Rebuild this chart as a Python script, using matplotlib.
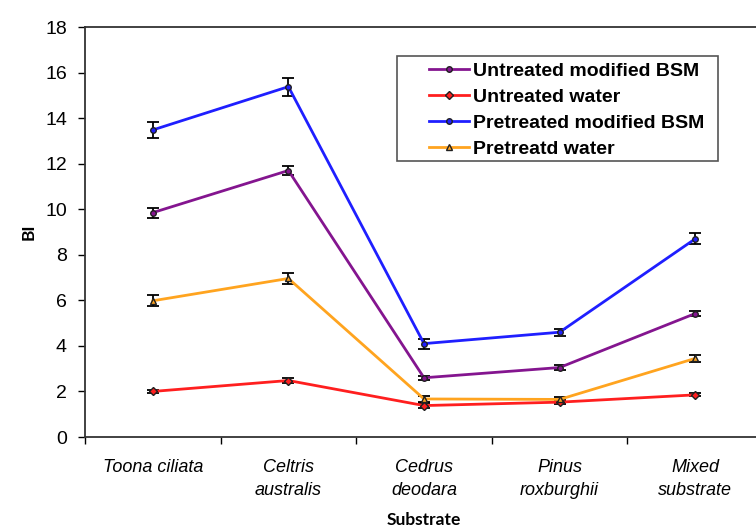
import numpy as np
import matplotlib.pyplot as plt
from matplotlib.patches import Rectangle
from matplotlib.ticker import FixedLocator, NullFormatter

plt.rcParams['font.family'] = ['Liberation Sans', 'DejaVu Sans']

substrates = ["Toona ciliata", "Celtris\naustralis", "Cedrus\ndeodara",
              "Pinus\nroxburghii", "Mixed\nsubstrate"]

# BI means and standard errors per substrate
untreated_bsm = [9.85, 11.7, 2.6, 3.05, 5.42]
untreated_bsm_err = [0.22, 0.2, 0.1, 0.1, 0.1]
untreated_water = [2.0, 2.48, 1.38, 1.53, 1.85]
untreated_water_err = [0.07, 0.1, 0.1, 0.08, 0.07]
pretreated_bsm = [13.48, 15.38, 4.1, 4.6, 8.7]
pretreated_bsm_err = [0.36, 0.4, 0.22, 0.16, 0.24]
pretreated_water = [5.98, 6.96, 1.67, 1.65, 3.45]
pretreated_water_err = [0.25, 0.24, 0.14, 0.12, 0.14]

series = [
    ("Untreated modified BSM", untreated_bsm, untreated_bsm_err, "#84158f", "o"),
    ("Untreated water", untreated_water, untreated_water_err, "#ff1f1f", "D"),
    ("Pretreated modified BSM", pretreated_bsm, pretreated_bsm_err, "#1f1fff", "o"),
    ("Pretreatd water", pretreated_water, pretreated_water_err, "#ffa41f", "^"),
]

W, H = 756, 530
fig = plt.figure(figsize=(W / 100, H / 100), dpi=100)
ax = fig.add_axes([85 / W, 1 - 437 / H, 678 / W, 410 / H])

x = np.arange(len(substrates))
handles, labels = [], []
for label, vals, err, color, marker in series:
    cont = ax.errorbar(x, vals, yerr=err, color=color, lw=2, marker=marker,
                       markersize=4, markeredgecolor="#202020", markerfacecolor=color,
                       ecolor="black", elinewidth=1.3, capsize=4, capthick=1.3,
                       zorder=3)
    # legend shows only the line + marker, not the error bars
    handles.append(cont.lines[0])
    labels.append(label)

ax.set_xlim(-0.5, len(substrates) - 0.5)
ax.set_ylim(0, 18)
ax.set_yticks(np.arange(0, 19, 2))
ax.tick_params(axis="y", direction="out", length=5, width=1, labelsize=14, pad=8)

# category labels centred, tick marks between categories
ax.set_xticks(x)
ax.set_xticklabels(substrates, style="italic", fontsize=13, linespacing=1.45)
ax.tick_params(axis="x", which="major", length=0, pad=16)
ax.xaxis.set_minor_locator(FixedLocator(np.arange(-0.5, len(substrates), 1)))
ax.xaxis.set_minor_formatter(NullFormatter())
ax.tick_params(axis="x", which="minor", direction="out", length=5, width=1)

for side in ["left", "bottom", "top"]:
    ax.spines[side].set_linewidth(1.3)
    ax.spines[side].set_color("#333333")
ax.spines["right"].set_visible(False)

ax.set_ylabel("BI", fontsize=12.5, fontweight="bold", family=["Lato", "DejaVu Sans"],
              labelpad=6)
ax.set_xlabel("Substrate", fontsize=12.5, fontweight="bold", family=["Lato", "DejaVu Sans"],
              labelpad=9)

# legend box is wider than its entries, so draw the frame separately
ax.add_patch(Rectangle((397 / W, 1 - 161 / H), 321 / W, 105 / H,
                       transform=fig.transFigure, facecolor="white",
                       edgecolor="#555555", lw=1.2, zorder=4, clip_on=False))
leg = ax.legend(handles, labels, loc="upper left",
                bbox_to_anchor=(429 / W, 1 - 62 / H),
                bbox_transform=fig.transFigure, frameon=False,
                prop={"weight": "bold", "size": 14}, handlelength=2.05,
                handletextpad=0.2, borderpad=0, labelspacing=0.43,
                borderaxespad=0)
leg.set_zorder(5)

fig.savefig("out.png", dpi=100)
